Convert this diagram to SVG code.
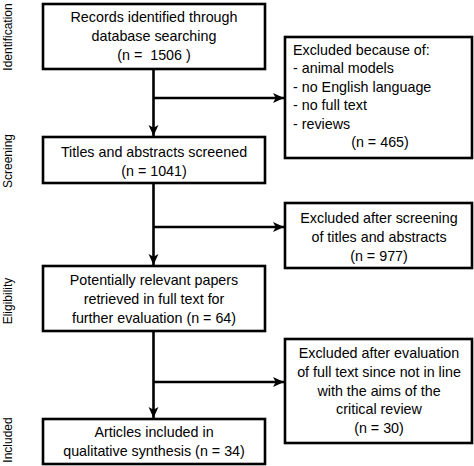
<svg xmlns="http://www.w3.org/2000/svg" width="474" height="466" viewBox="0 0 474 466">
<style>
.box{fill:#fff;stroke:#000;stroke-width:2.6}
.t{font-family:"Liberation Sans",Arial,sans-serif;font-size:14.3px;fill:#000}
.c{text-anchor:middle}
.side{font-family:"Liberation Sans",Arial,sans-serif;font-size:12px;fill:#000;text-anchor:middle}
.ln{fill:none;stroke:#000;stroke-width:2.6}
</style>
<defs>
<marker id="ah" markerUnits="userSpaceOnUse" markerWidth="11" markerHeight="11" viewBox="0 0 10 10" refX="10" refY="5" orient="auto">
<path d="M0,0.5 L10,5 L0,9.5 L2.5,5 z" fill="#000"/>
</marker>
</defs>
<g id="phases">
<text class="side" transform="translate(12,37) rotate(-90)">Identification</text>
<text class="side" transform="translate(12,161) rotate(-90)">Screening</text>
<text class="side" transform="translate(12,301) rotate(-90)">Eligibility</text>
<text class="side" transform="translate(12,440) rotate(-90)">Included</text>
</g>
<g id="connectors">
<line class="ln" x1="153.5" y1="69" x2="153.5" y2="136" marker-end="url(#ah)"/>
<line class="ln" x1="153.5" y1="98" x2="284" y2="98" marker-end="url(#ah)"/>
<line class="ln" x1="153.5" y1="183" x2="153.5" y2="265" marker-end="url(#ah)"/>
<line class="ln" x1="153.5" y1="227" x2="284" y2="227" marker-end="url(#ah)"/>
<line class="ln" x1="153.5" y1="331" x2="153.5" y2="418" marker-end="url(#ah)"/>
<line class="ln" x1="153.5" y1="382" x2="284" y2="382" marker-end="url(#ah)"/>
</g>
<g id="records">
<rect class="box" x="43" y="4" width="222" height="65"/>
<text class="t c" x="154" y="22">Records identified through</text>
<text class="t c" x="154" y="41">database searching</text>
<text class="t c" x="154" y="60" xml:space="preserve">(n =  1506 )</text>
</g>
<g id="excluded1">
<rect class="box" x="285" y="37" width="187" height="121"/>
<text class="t" x="293" y="55">Excluded because of:</text>
<text class="t" x="293" y="73">- animal models</text>
<text class="t" x="293" y="91.5">- no English language</text>
<text class="t" x="293" y="110">- no full text</text>
<text class="t" x="293" y="128.5">- reviews</text>
<text class="t c" x="380" y="147">(n = 465)</text>
</g>
<g id="screened">
<rect class="box" x="43" y="137" width="222" height="46"/>
<text class="t c" x="154" y="156.5">Titles and abstracts screened</text>
<text class="t c" x="154" y="175.5">(n = 1041)</text>
</g>
<g id="excluded2">
<rect class="box" x="285" y="203" width="187" height="65"/>
<text class="t c" x="379" y="222.5">Excluded after screening</text>
<text class="t c" x="379" y="241.5">of titles and abstracts</text>
<text class="t c" x="379" y="260.5">(n = 977)</text>
</g>
<g id="eligible">
<rect class="box" x="43" y="266" width="222" height="65"/>
<text class="t c" x="154" y="285">Potentially relevant papers</text>
<text class="t c" x="154" y="304">retrieved in full text for</text>
<text class="t c" x="154" y="323">further evaluation (n = 64)</text>
</g>
<g id="excluded3">
<rect class="box" x="285" y="339" width="187" height="104"/>
<text class="t c" x="379" y="358">Excluded after evaluation</text>
<text class="t c" x="379" y="377">of full text since not in line</text>
<text class="t c" x="379" y="395.5">with the aims of the</text>
<text class="t c" x="379" y="414">critical review</text>
<text class="t c" x="379" y="433">(n = 30)</text>
</g>
<g id="included">
<rect class="box" x="43" y="419" width="222" height="45"/>
<text class="t c" x="154" y="437">Articles included in</text>
<text class="t c" x="154" y="456">qualitative synthesis (n = 34)</text>
</g>
</svg>
